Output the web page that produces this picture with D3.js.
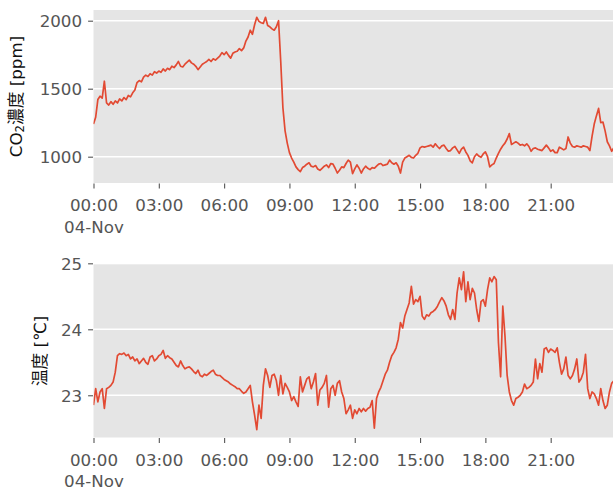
<!DOCTYPE html>
<html>
<head>
<meta charset="utf-8">
<script src="https://cdn.jsdelivr.net/npm/d3@7"></script>
<style>
  html, body { margin: 0; padding: 0; background: #fff; }
  svg { display: block; }
  text { font-family: "DejaVu Sans", "Noto Sans CJK JP", sans-serif; }
</style>
</head>
<body>
<svg id="chart" width="613" height="490"></svg>
<script>
// ---- data (6-minute samples, 04-Nov 00:00 onward) ----
const startTime = [2020, 10, 4, 0, 0];
const stepMinutes = 6;
const co2Values = [
  1240,1290,1420,1445,1430,1555,1395,1380,1405,1385,
  1410,1395,1425,1410,1435,1420,1450,1440,1470,1490,
  1545,1560,1550,1585,1600,1590,1610,1600,1625,1615,
  1630,1620,1645,1630,1650,1640,1665,1655,1675,1700,
  1665,1660,1680,1695,1710,1690,1680,1665,1640,1660,
  1680,1690,1700,1715,1700,1720,1710,1725,1740,1765,
  1750,1770,1745,1725,1760,1770,1775,1795,1780,1800,
  1850,1880,1930,1900,1970,2025,1995,1985,1980,2025,
  1965,1955,1940,1930,1955,2000,1700,1360,1190,1100,
  1030,990,960,925,905,890,920,930,945,955,
  930,925,935,910,900,915,930,940,920,950,
  945,915,880,900,925,920,950,975,960,875,
  910,940,915,880,910,930,915,905,920,915,
  930,945,950,935,940,945,975,955,945,955,
  930,880,960,990,1000,1010,995,990,1010,1025,
  1065,1075,1070,1075,1080,1085,1070,1095,1075,1060,
  1080,1085,1060,1040,1045,1065,1075,1050,1025,1055,
  1070,1035,1010,970,955,1000,1020,1005,995,1020,
  1035,1000,925,940,950,990,1025,1055,1080,1100,
  1130,1170,1090,1100,1110,1100,1085,1090,1080,1095,
  1075,1040,1060,1065,1055,1050,1045,1065,1085,1065,
  1040,1050,1030,1030,1070,1060,1050,1060,1145,1100,
  1075,1070,1080,1075,1070,1080,1075,1070,1045,1150,
  1240,1300,1355,1250,1255,1190,1110,1080,1040,1065
];
const tempValues = [
  22.85,23.10,22.90,23.05,23.10,22.80,23.10,23.12,23.15,23.20,
  23.35,23.60,23.63,23.62,23.64,23.60,23.62,23.55,23.58,23.52,
  23.55,23.48,23.52,23.56,23.50,23.47,23.58,23.60,23.52,23.55,
  23.60,23.62,23.68,23.56,23.60,23.57,23.55,23.50,23.45,23.43,
  23.52,23.45,23.40,23.42,23.43,23.40,23.36,23.33,23.38,23.30,
  23.28,23.32,23.30,23.33,23.36,23.38,23.32,23.30,23.30,23.27,
  23.24,23.22,23.20,23.17,23.15,23.13,23.10,23.10,23.06,23.03,
  23.05,23.10,23.15,22.90,22.70,22.48,22.85,22.65,23.15,23.40,
  23.30,23.12,23.30,23.32,23.22,23.00,23.30,23.02,23.18,23.12,
  23.05,22.92,22.98,22.90,22.83,23.28,23.05,23.15,23.25,23.28,
  23.10,23.20,23.33,22.85,23.08,23.12,23.18,23.30,22.82,23.10,
  23.15,23.00,23.18,23.22,23.05,22.95,22.72,22.78,22.85,22.65,
  22.78,22.72,22.80,22.75,22.80,22.76,22.80,22.82,22.92,22.50,
  22.95,23.05,23.12,23.22,23.32,23.38,23.50,23.60,23.65,23.72,
  23.85,24.10,24.02,24.20,24.30,24.40,24.65,24.38,24.45,24.42,
  24.50,24.20,24.15,24.22,24.20,24.25,24.27,24.30,24.35,24.42,
  24.48,24.43,24.35,24.22,24.15,24.30,24.15,24.55,24.78,24.60,
  24.87,24.42,24.72,24.45,24.62,24.55,24.30,24.12,24.42,24.45,
  24.35,24.60,24.78,24.72,24.80,24.75,23.80,23.28,24.35,23.90,
  23.30,23.05,22.92,22.85,22.95,22.97,23.00,23.05,23.17,23.10,
  23.12,23.15,23.20,23.55,23.25,23.48,23.35,23.70,23.72,23.65,
  23.70,23.68,23.65,23.72,23.50,23.32,23.40,23.58,23.30,23.25,
  23.30,23.40,23.55,23.20,23.25,23.35,23.62,23.10,22.95,23.05,
  23.02,22.95,22.85,23.10,22.92,22.80,22.85,23.05,23.18,23.22
];
const co2Ticks = [1000, 1500, 2000];
const tempTicks = [23, 24, 25];
const co2Label = ["CO", "2", "濃度 [ppm]"];
const tempLabel = "温度 [℃]";
const dateLabel = "04-Nov";

// ---- layout ----
const svg = d3.select("#chart");
const left = 93.5, right = 616;
const t0 = new Date(...startTime);
const t1 = new Date(t0.getTime() + 24 * 3600 * 1000);
const x = d3.scaleTime().domain([t0, t1]).range([left, right]);
const timeOf = i => new Date(t0.getTime() + i * stepMinutes * 60000);

const panels = [
  { values: co2Values, ticks: co2Ticks, domain: [806.6, 2078.7], top: 10, bottom: 183, label: "co2", labelX: 16, fmt: d3.format("d") },
  { values: tempValues, ticks: tempTicks, domain: [22.36, 24.985], top: 264.3, bottom: 437.5, label: "temp", labelX: 40, fmt: d3.format("d") }
];

panels.forEach((p, pi) => {
  const y = d3.scaleLinear().domain(p.domain).range([p.bottom, p.top]);
  const g = svg.append("g");

  g.append("rect")
    .attr("x", left).attr("y", p.top)
    .attr("width", right - left).attr("height", p.bottom - p.top)
    .attr("fill", "#E5E5E5");

  // grid
  g.append("g").selectAll("line").data(p.ticks).join("line")
    .attr("x1", left).attr("x2", right)
    .attr("y1", d => y(d)).attr("y2", d => y(d))
    .attr("stroke", "#fff").attr("stroke-width", 1.4);

  const clipId = "clip" + pi;
  svg.append("clipPath").attr("id", clipId).append("rect")
    .attr("x", left).attr("y", p.top).attr("width", right - left).attr("height", p.bottom - p.top);

  const line = d3.line().x((d, i) => x(timeOf(i))).y(d => y(d));
  g.append("path").datum(p.values)
    .attr("clip-path", `url(#${clipId})`)
    .attr("d", line)
    .attr("fill", "none")
    .attr("stroke", "#E24A33")
    .attr("stroke-width", 1.7)
    .attr("stroke-linejoin", "round");

  // y axis
  const yAxis = d3.axisLeft(y).tickValues(p.ticks).tickFormat(p.fmt).tickSize(4.9).tickPadding(6);
  const ya = g.append("g").attr("transform", `translate(${left - 0.5},0)`).call(yAxis);
  ya.select(".domain").remove();
  ya.selectAll(".tick line").attr("stroke", "#555555").attr("stroke-width", 1.1);
  ya.selectAll(".tick text").attr("fill", "#555555").style("font-size", "16.7px")
    .attr("dy", "0.36em");

  // x axis
  const xAxis = d3.axisBottom(x).ticks(d3.timeHour.every(3)).tickFormat(d3.timeFormat("%H:%M")).tickSize(4.9).tickPadding(0);
  const xa = g.append("g").attr("transform", `translate(0,${p.bottom + 0.5})`).call(xAxis);
  xa.select(".domain").remove();
  xa.selectAll(".tick").filter(d => d > new Date(t1.getTime() - 60000)).remove();
  xa.selectAll(".tick line").attr("stroke", "#555555").attr("stroke-width", 1.1);
  xa.selectAll(".tick text").attr("fill", "#555555").style("font-size", "16.7px")
    .attr("y", 27.5).attr("dy", null);
  xa.selectAll(".tick").filter((d, i) => i === 0).select("text")
    .append("tspan").attr("x", 0).attr("dy", 21.5).text(dateLabel);

  // y label
  const cy = (p.top + p.bottom) / 2;
  const lab = svg.append("text")
    .attr("transform", `translate(${p.labelX},${cy}) rotate(-90)`)
    .attr("text-anchor", "middle")
    .attr("dominant-baseline", "central")
    .attr("fill", "#111")
    .style("font-size", "16.7px");
  if (p.label === "co2") {
    lab.append("tspan").text(co2Label[0]);
    lab.append("tspan").attr("dy", 4).style("font-size", "11.7px").text(co2Label[1]);
    lab.append("tspan").attr("dy", -4).text(co2Label[2]);
  } else {
    lab.text(tempLabel);
  }
});
</script>
</body>
</html>
